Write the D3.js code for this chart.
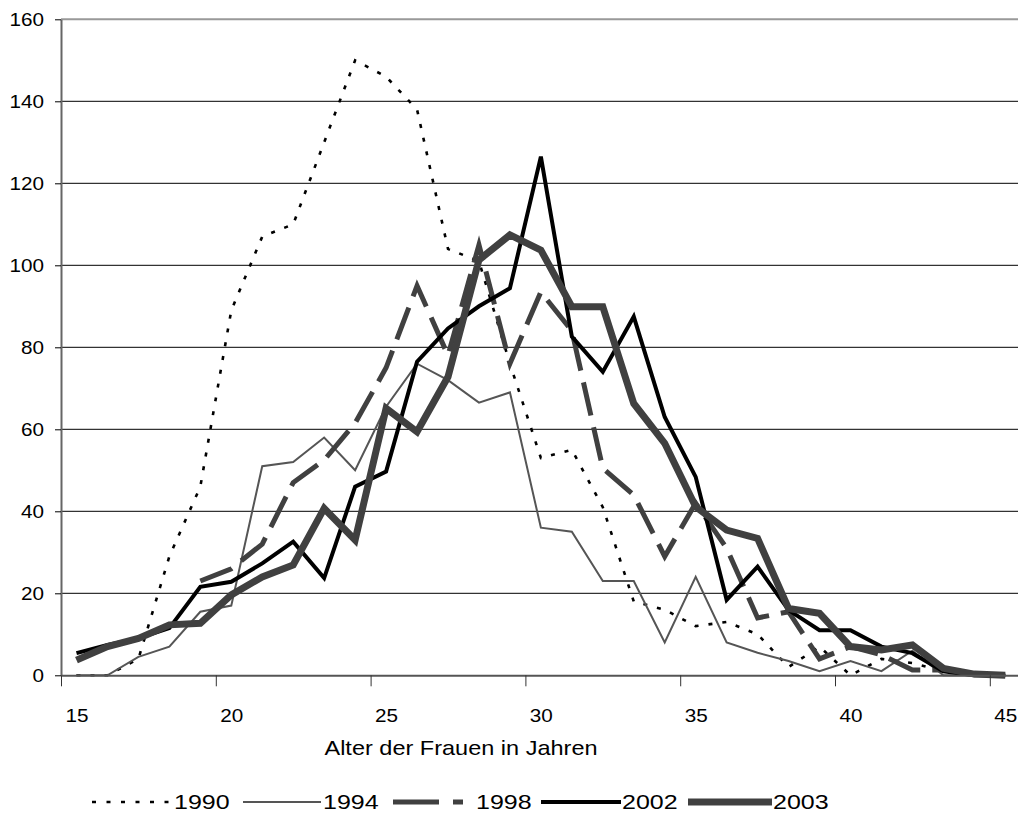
<!DOCTYPE html>
<html><head><meta charset="utf-8">
<script src="https://cdn.jsdelivr.net/npm/d3@7"></script>
<style>
html,body{margin:0;padding:0;background:#fff;}
svg{display:block;font-family:"Liberation Sans",Arial,sans-serif;}
</style></head>
<body>
<svg id="chart" width="1018" height="814"></svg>
<script>
const ages = [15,16,17,18,19,20,21,22,23,24,25,26,27,28,29,30,31,32,33,34,35,36,37,38,39,40,41,42,43,44,45];
const xTickLabels = [15,20,25,30,35,40,45];
const yTicks = [0,20,40,60,80,100,120,140,160];
const seriesNames = ["1990","1994","1998","2002","2003"];
const v1990 = [0,0,4,29,46,89,107,110,130,150,146,138,104,101,76,53,55,41,18,16,12,13,10,2,7,0,4,3,1,0,0];
const v1994 = [0,0,4.5,7,15.5,17,51,52,58,50,65.5,76,72,66.5,69,36,35,23,23,8,24,8,5.5,3.5,1,3.5,1,6,0,0,0];
const v1998 = [null,null,null,null,23,26,32,47,52.5,61.5,75,95,78,105,76,93.5,84,50.5,44,29,42,31,14,15.5,4,7,5,1.3,1.3,null,null];
const v2002 = [5.4,7.4,9,11.5,21.6,22.8,27.3,32.6,23.7,46,49.7,76.5,84.6,90,94.4,126.5,82.6,74,87.5,63,48.4,18.4,26.5,15.9,11,11,7,5.4,1,0,0];
const v2003 = [3.7,7,9,12.3,12.7,19.6,24,26.9,40.7,33,65.1,59.4,72.8,101.3,107.4,103.7,89.9,89.9,66.3,56.6,41.1,35.4,33.4,16.3,15.1,7,6.2,7.4,1.7,0.3,0];
const xTitle = "Alter der Frauen in Jahren";

const seriesValues = [v1990, v1994, v1998, v2002, v2003];
const styles = [
  {color:"#000", width:2.6, dash:"4,10", legendDash:"4,10.5", cap:"butt"},
  {color:"#555", width:2, dash:null, legendDash:null, cap:"butt"},
  {color:"#404040", width:5, dash:"34,12", legendDash:"46,14,10,100", cap:"butt"},
  {color:"#000", width:4, dash:null, legendDash:null, cap:"butt"},
  {color:"#404040", width:7, dash:null, legendDash:null, cap:"butt"}
];

const svg = d3.select("#chart");
const plotLeft = 61, bandW = 30.96, plotRight = plotLeft + ages.length*bandW;
const plotTop = 19.3, plotBottom = 675.3;

const x = d3.scaleBand().domain(ages).range([plotLeft, plotRight]).padding(0);
const xEdge = d3.scaleLinear().domain([14.5, 45.5]).range([plotLeft, plotRight]);
const y = d3.scaleLinear().domain([0,160]).range([plotBottom, plotTop]);

// gridlines
svg.append("g").selectAll("line").data(yTicks.filter(d=>d>0)).join("line")
  .attr("x1", plotLeft).attr("x2", plotRight)
  .attr("y1", d=>y(d)).attr("y2", d=>y(d))
  .attr("stroke", d=> d===160 ? "#999" : "#000")
  .attr("stroke-width", d=> d===160 ? 2 : 1);

// y axis
const yAxis = svg.append("g").attr("transform", `translate(${plotLeft},0)`)
  .call(d3.axisLeft(y).tickValues(yTicks).tickSize(6).tickSizeOuter(0));
yAxis.select(".domain").attr("stroke","#666").attr("stroke-width",2);
yAxis.selectAll(".tick line").attr("stroke","#000");
yAxis.selectAll(".tick text").attr("font-size",18).attr("fill","#000")
  .attr("font-family","Liberation Sans, Arial, sans-serif")
  .attr("transform","translate(-17,0) scale(1.15,1)").attr("x", 0);

// series lines
const line = d3.line()
  .defined(d => d.v !== null)
  .x(d => x(d.a) + x.bandwidth()/2)
  .y(d => y(d.v));

seriesValues.forEach((vals, i) => {
  const st = styles[i];
  svg.append("path")
    .datum(ages.map((a,j)=>({a, v: vals[j]})))
    .attr("d", line)
    .attr("fill","none")
    .attr("stroke", st.color)
    .attr("stroke-width", st.width)
    .attr("stroke-dasharray", st.dash)
    .attr("stroke-linecap", st.cap)
    .attr("stroke-linejoin","miter");
});

// x axis: ticks at band edges every 5
const xAxis = svg.append("g").attr("transform", `translate(0,${plotBottom})`)
  .call(d3.axisBottom(xEdge).tickValues(xTickLabels.map(d=>d-0.5)).tickSize(11).tickSizeOuter(0).tickFormat(""));
xAxis.select(".domain").attr("stroke","#555").attr("stroke-width",2);
xAxis.selectAll(".tick line").attr("stroke","#333");

const xLab = svg.append("g").attr("transform", `translate(0,${plotBottom})`)
  .call(d3.axisBottom(xEdge).tickValues(xTickLabels).tickSize(0).tickPadding(34));
xLab.select(".domain").remove();
xLab.selectAll(".tick text").attr("font-size",18).attr("fill","#000")
  .attr("font-family","Liberation Sans, Arial, sans-serif")
  .attr("transform","scale(1.15,1)");

// axis title
svg.append("text").attr("transform","translate(461,755) scale(1.12,1)")
  .attr("text-anchor","middle").attr("font-size",21).attr("fill","#000").text(xTitle);

// legend
const legendX = [92, 243, 393, 541, 688];
const legendLen = [80, 78, 74, 80, 84];
const legendTextX = [174, 323, 476, 622, 773];
const ly = 802;
const lg = svg.append("g");
seriesNames.forEach((name,i)=>{
  const st = styles[i];
  lg.append("line").attr("x1", legendX[i]).attr("x2", legendX[i]+legendLen[i])
    .attr("y1", ly).attr("y2", ly)
    .attr("stroke", st.color).attr("stroke-width", st.width)
    .attr("stroke-dasharray", st.legendDash);
  lg.append("text").attr("transform",`translate(${legendTextX[i]},${ly+7}) scale(1.25,1)`)
    .attr("font-size",20).attr("fill","#000").text(name);
});
</script>
</body></html>
